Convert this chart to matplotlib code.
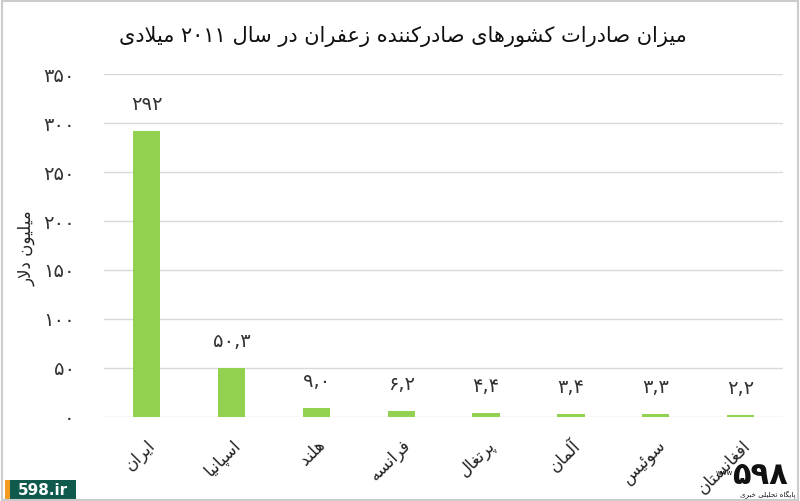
import matplotlib

matplotlib.use("Agg")
import matplotlib.pyplot as plt  # noqa: E402
from matplotlib.patches import Rectangle  # noqa: E402


TITLE = "میزان صادرات کشورهای صادرکننده زعفران در سال ۲۰۱۱ میلادی"
Y_LABEL = "میلیون دلار"
COUNTRIES = ["ایران", "اسپانیا", "هلند", "فرانسه", "پرتغال", "آلمان", "سوئیس", "افغانستان"]
VALUES = [292, 50.3, 9.0, 6.2, 4.4, 3.4, 3.3, 2.2]
VALUE_LABELS = ["۲۹۲", "۵۰,۳", "۹,۰", "۶,۲", "۴,۴", "۳,۴", "۳,۳", "۲,۲"]
Y_TICKS = [0, 50, 100, 150, 200, 250, 300, 350]
Y_TICK_LABELS = ["۰", "۵۰", "۱۰۰", "۱۵۰", "۲۰۰", "۲۵۰", "۳۰۰", "۳۵۰"]

BAR_COLOR = "#92d050"
GRID_COLOR = "#d9d9d9"

# presentation forms: isolated, final, initial, medial (None -> right-joining only)
FORMS = {
    "ا": (0xFE8D, 0xFE8E, None, None),
    "آ": (0xFE81, 0xFE82, None, None),
    "ب": (0xFE8F, 0xFE90, 0xFE91, 0xFE92),
    "پ": (0xFB56, 0xFB57, 0xFB58, 0xFB59),
    "ت": (0xFE95, 0xFE96, 0xFE97, 0xFE98),
    "ث": (0xFE99, 0xFE9A, 0xFE9B, 0xFE9C),
    "ج": (0xFE9D, 0xFE9E, 0xFE9F, 0xFEA0),
    "چ": (0xFB7A, 0xFB7B, 0xFB7C, 0xFB7D),
    "ح": (0xFEA1, 0xFEA2, 0xFEA3, 0xFEA4),
    "خ": (0xFEA5, 0xFEA6, 0xFEA7, 0xFEA8),
    "د": (0xFEA9, 0xFEAA, None, None),
    "ذ": (0xFEAB, 0xFEAC, None, None),
    "ر": (0xFEAD, 0xFEAE, None, None),
    "ز": (0xFEAF, 0xFEB0, None, None),
    "ژ": (0xFB8A, 0xFB8B, None, None),
    "س": (0xFEB1, 0xFEB2, 0xFEB3, 0xFEB4),
    "ش": (0xFEB5, 0xFEB6, 0xFEB7, 0xFEB8),
    "ص": (0xFEB9, 0xFEBA, 0xFEBB, 0xFEBC),
    "ض": (0xFEBD, 0xFEBE, 0xFEBF, 0xFEC0),
    "ط": (0xFEC1, 0xFEC2, 0xFEC3, 0xFEC4),
    "ظ": (0xFEC5, 0xFEC6, 0xFEC7, 0xFEC8),
    "ع": (0xFEC9, 0xFECA, 0xFECB, 0xFECC),
    "غ": (0xFECD, 0xFECE, 0xFECF, 0xFED0),
    "ف": (0xFED1, 0xFED2, 0xFED3, 0xFED4),
    "ق": (0xFED5, 0xFED6, 0xFED7, 0xFED8),
    "ک": (0xFB8E, 0xFB8F, 0xFB90, 0xFB91),
    "گ": (0xFB92, 0xFB93, 0xFB94, 0xFB95),
    "ل": (0xFEDD, 0xFEDE, 0xFEDF, 0xFEE0),
    "م": (0xFEE1, 0xFEE2, 0xFEE3, 0xFEE4),
    "ن": (0xFEE5, 0xFEE6, 0xFEE7, 0xFEE8),
    "ه": (0xFEE9, 0xFEEA, 0xFEEB, 0xFEEC),
    "و": (0xFEED, 0xFEEE, None, None),
    "ی": (0xFEEF, 0xFEF0, 0xFEF3, 0xFEF4),
    "ئ": (0xFE89, 0xFE8A, 0xFE8B, 0xFE8C),
}
LTR_CHARS = set("0123456789۰۱۲۳۴۵۶۷۸۹,.")


def is_dual(ch):
    return ch in FORMS and FORMS[ch][2] is not None


def shape(text):
    out = []
    i = 0
    n = len(text)
    while i < n:
        c = text[i]
        prev = text[i - 1] if i > 0 else ""
        joins_prev = is_dual(prev) and c in FORMS
        if c == "ل" and i + 1 < n and text[i + 1] in "اآ":
            if text[i + 1] == "ا":
                out.append(chr(0xFEFC if joins_prev else 0xFEFB))
            else:
                out.append(chr(0xFEF6 if joins_prev else 0xFEF5))
            i += 2
            continue
        if c not in FORMS:
            out.append(c)
            i += 1
            continue
        nxt = text[i + 1] if i + 1 < n else ""
        joins_next = is_dual(c) and nxt in FORMS
        iso, fin, ini, med = FORMS[c]
        if joins_prev and joins_next:
            out.append(chr(med))
        elif joins_prev:
            out.append(chr(fin))
        elif joins_next:
            out.append(chr(ini))
        else:
            out.append(chr(iso))
        i += 1
    # visual order: reverse, then keep number runs left-to-right
    rev = out[::-1]
    result = []
    run = []
    for ch in rev:
        if ch in LTR_CHARS:
            run.append(ch)
        else:
            if run:
                result.extend(run[::-1])
                run = []
            result.append(ch)
    result.extend(run[::-1])
    return "".join(result)


plt.rcParams["font.family"] = ["DejaVu Sans"]

fig = plt.figure(figsize=(8.0, 5.01), dpi=100)
ax = fig.add_axes([0.13, 0.168, 0.849, 0.684])

x = range(len(COUNTRIES))
ax.bar(x, VALUES, width=0.32, color=BAR_COLOR, zorder=3)
for xi, v, lab in zip(x, VALUES, VALUE_LABELS):
    ax.annotate(lab, (xi, v), xytext=(0, 12), textcoords="offset points",
                ha="center", va="bottom", fontsize=14, color="#333333")

ax.set_xlim(-0.5, len(COUNTRIES) - 0.5)
ax.set_ylim(0, 350)
ax.set_yticks(Y_TICKS)
ax.set_yticklabels(Y_TICK_LABELS, fontsize=14, color="#333333")
ax.set_xticks(list(x))
ax.set_xticklabels([shape(c) for c in COUNTRIES], rotation=45, ha="right",
                   rotation_mode="anchor", fontsize=12, color="#222222")
ax.tick_params(axis="y", length=0, pad=21)
ax.tick_params(axis="x", length=0, pad=14)
ax.grid(axis="y", color=GRID_COLOR, linewidth=1.0, zorder=0)
for s in ax.spines.values():
    s.set_visible(False)

fig.text(0.503, 0.927, shape(TITLE), ha="center", va="center", fontsize=15, color="#111111")
fig.text(0.033, 0.505, shape(Y_LABEL), ha="center", va="center", rotation=90, fontsize=12,
         color="#222222")

# watermark box bottom-left
fig.patches.append(Rectangle((0.006, 0.0), 0.089, 0.042, transform=fig.transFigure,
                             facecolor="#0f5a4c", edgecolor="none"))
fig.patches.append(Rectangle((0.006, 0.0), 0.007, 0.042, transform=fig.transFigure,
                             facecolor="#f39c1f", edgecolor="none"))
fig.text(0.054, 0.021, "598.ir", ha="center", va="center", fontsize=11, fontweight="bold",
         color="white")

# logo bottom-right
fig.text(0.985, 0.05, "۵۹۸", ha="right", va="center", fontsize=22, fontweight="bold",
         color="#111111")
fig.text(0.905, 0.055, "www", ha="center", va="center", fontsize=5, color="#111111")
fig.text(0.96, 0.012, shape("پایگاه تحلیلی خبری"), ha="center", va="center", fontsize=5,
         color="#111111")

# outer frame
fig.patches.append(Rectangle((0.002, 0.002), 0.996, 0.996, transform=fig.transFigure,
                             facecolor="none", edgecolor="#cccccc", linewidth=1.5))

fig.savefig("out.png", dpi=100)
